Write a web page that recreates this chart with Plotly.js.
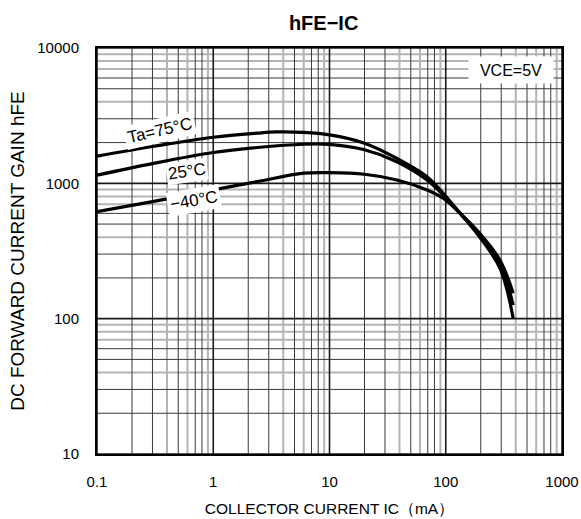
<!DOCTYPE html>
<html>
<head>
<meta charset="utf-8">
<script src="https://cdn.plot.ly/plotly-3.0.1.min.js"></script>
<style>html,body{margin:0;padding:0;background:#fff;}#chart{width:581px;height:519px;}</style>
</head>
<body>
<div id="chart"></div>
<script>
// Collector current (mA) and DC current gain readings per temperature
const current75 = [0.1, 0.3, 1, 2.4, 3.5, 6, 10, 20, 38, 69, 95, 133, 190, 293, 380];
const hfe75     = [1590, 1870, 2190, 2350, 2400, 2380, 2280, 1980, 1530, 1120, 845, 600, 415, 235, 101];
const current25 = [0.1, 0.3, 1, 2.4, 6, 10, 20, 38, 69, 95, 133, 190, 293, 380];
const hfe25     = [1150, 1400, 1690, 1840, 1945, 1940, 1770, 1445, 1060, 820, 600, 430, 255, 126];
const currentM40 = [0.1, 0.3, 1, 2.4, 6, 10, 20, 38, 69, 95, 133, 190, 293, 380];
const hfeM40     = [618, 733, 894, 1031, 1188, 1200, 1167, 1059, 894, 776, 601, 440, 270, 154];

const xTickVals = [0.1, 1, 10, 100, 1000];
const xTickText = ["0.1", "1", "10", "100", "1000"];
const yTickVals = [10, 100, 1000, 10000];
const yTickText = ["10", "100", "1000", "10000"];

const xDecades = [0.1, 1, 10, 100];
const yDecades = [10, 100, 1000];
const vDarkMult = [2, 3, 5, 7, 8];
const vGrayMult = [4, 6, 9];
const hDarkMult = [2, 3, 5, 6];
const hGrayMult = [4, 7, 8, 9];

const X0 = 0.1, X1 = 1000, Y0 = 10, Y1 = 10000;

function vLines(vals){ const x=[],y=[]; vals.forEach(v=>{x.push(v,v,null);y.push(Y0,Y1,null);}); return {x,y}; }
function hLines(vals){ const x=[],y=[]; vals.forEach(v=>{x.push(X0,X1,null);y.push(v,v,null);}); return {x,y}; }
function mults(decs, m){ const out=[]; decs.forEach(d=>m.forEach(k=>out.push(d*k))); return out; }

const grayV = vLines(mults(xDecades, vGrayMult));
const grayH = hLines(mults(yDecades, hGrayMult));
const darkV = vLines(mults(xDecades, vDarkMult));
const darkH = hLines(mults(yDecades, hDarkMult));
const majV = vLines(xTickVals);
const majH = hLines(yTickVals);

function gridTrace(g, color, width){
  return {x:g.x, y:g.y, mode:'lines', line:{color:color, width:width}, hoverinfo:'skip', showlegend:false, connectgaps:false};
}

const curve = (x, y) => ({x, y, mode:'lines', line:{color:'#000', width:3.2, shape:'spline', smoothing:1}, showlegend:false});

const data = [
  gridTrace(grayV, '#b4b4b4', 2),
  gridTrace(grayH, '#b4b4b4', 2),
  gridTrace(darkV, '#3a3a3a', 1),
  gridTrace(darkH, '#3a3a3a', 1),
  gridTrace(majV, '#1a1a1a', 1.6),
  gridTrace(majH, '#1a1a1a', 1.6),
  curve(current75, hfe75),
  curve(current25, hfe25),
  curve(currentM40, hfeM40)
];

const font = 'Arial, "Liberation Sans", sans-serif';

const layout = {
  width: 581, height: 519,
  margin: {l: 97, r: 19, t: 48, b: 65},
  paper_bgcolor: '#fff', plot_bgcolor: '#fff',
  font: {family: font, color: '#000', size: 15},
  title: {text: '<b>hFE−IC</b>', x: 0.557, xanchor: 'center', y: 0.955, yanchor: 'middle', font: {family: font, size: 20, color: '#000'}},
  xaxis: {
    type: 'log', range: [-1, 3], showgrid: false, zeroline: false,
    tickvals: xTickVals, ticktext: xTickText,
    ticks: 'outside', ticklen: 13, tickcolor: 'rgba(0,0,0,0)',
    tickfont: {size: 15, family: font},
    showline: true, linecolor: '#000', linewidth: 2, mirror: true,
    title: {text: 'COLLECTOR CURRENT IC（mA）', font: {size: 15.5, family: font}, standoff: 14}
  },
  yaxis: {
    type: 'log', range: [1, 4], showgrid: false, zeroline: false,
    tickvals: yTickVals, ticktext: yTickText,
    ticks: 'outside', ticklen: 13, tickcolor: 'rgba(0,0,0,0)',
    tickfont: {size: 15, family: font},
    showline: true, linecolor: '#000', linewidth: 2, mirror: true,
    title: {text: 'DC FORWARD CURRENT GAIN hFE', font: {size: 19, family: font}, standoff: 8}
  },
  annotations: [
    {xref:'paper', yref:'paper', x:0.890, y:0.9458, xanchor:'center', yanchor:'middle', text:'VCE=5V', showarrow:false, bgcolor:'#fff', width:82, height:24, font:{size:16, family:font}},
    {xref:'paper', yref:'paper', x:0.1345, y:0.7956, xanchor:'center', yanchor:'middle', text:'Ta=75°C', showarrow:false, bgcolor:'#fff', borderpad:2, textangle:-13, font:{size:17, family:font}},
    {xref:'paper', yref:'paper', x:0.1935, y:0.6946, xanchor:'center', yanchor:'middle', text:'25°C', showarrow:false, bgcolor:'#fff', borderpad:1, textangle:-8, font:{size:17, family:font}},
    {xref:'paper', yref:'paper', x:0.2085, y:0.6232, xanchor:'center', yanchor:'middle', text:'−40°C', showarrow:false, bgcolor:'#fff', borderpad:2, textangle:-10, font:{size:17, family:font}}
  ]
};

Plotly.newPlot('chart', data, layout, {staticPlot: true, displayModeBar: false});
</script>
</body>
</html>
